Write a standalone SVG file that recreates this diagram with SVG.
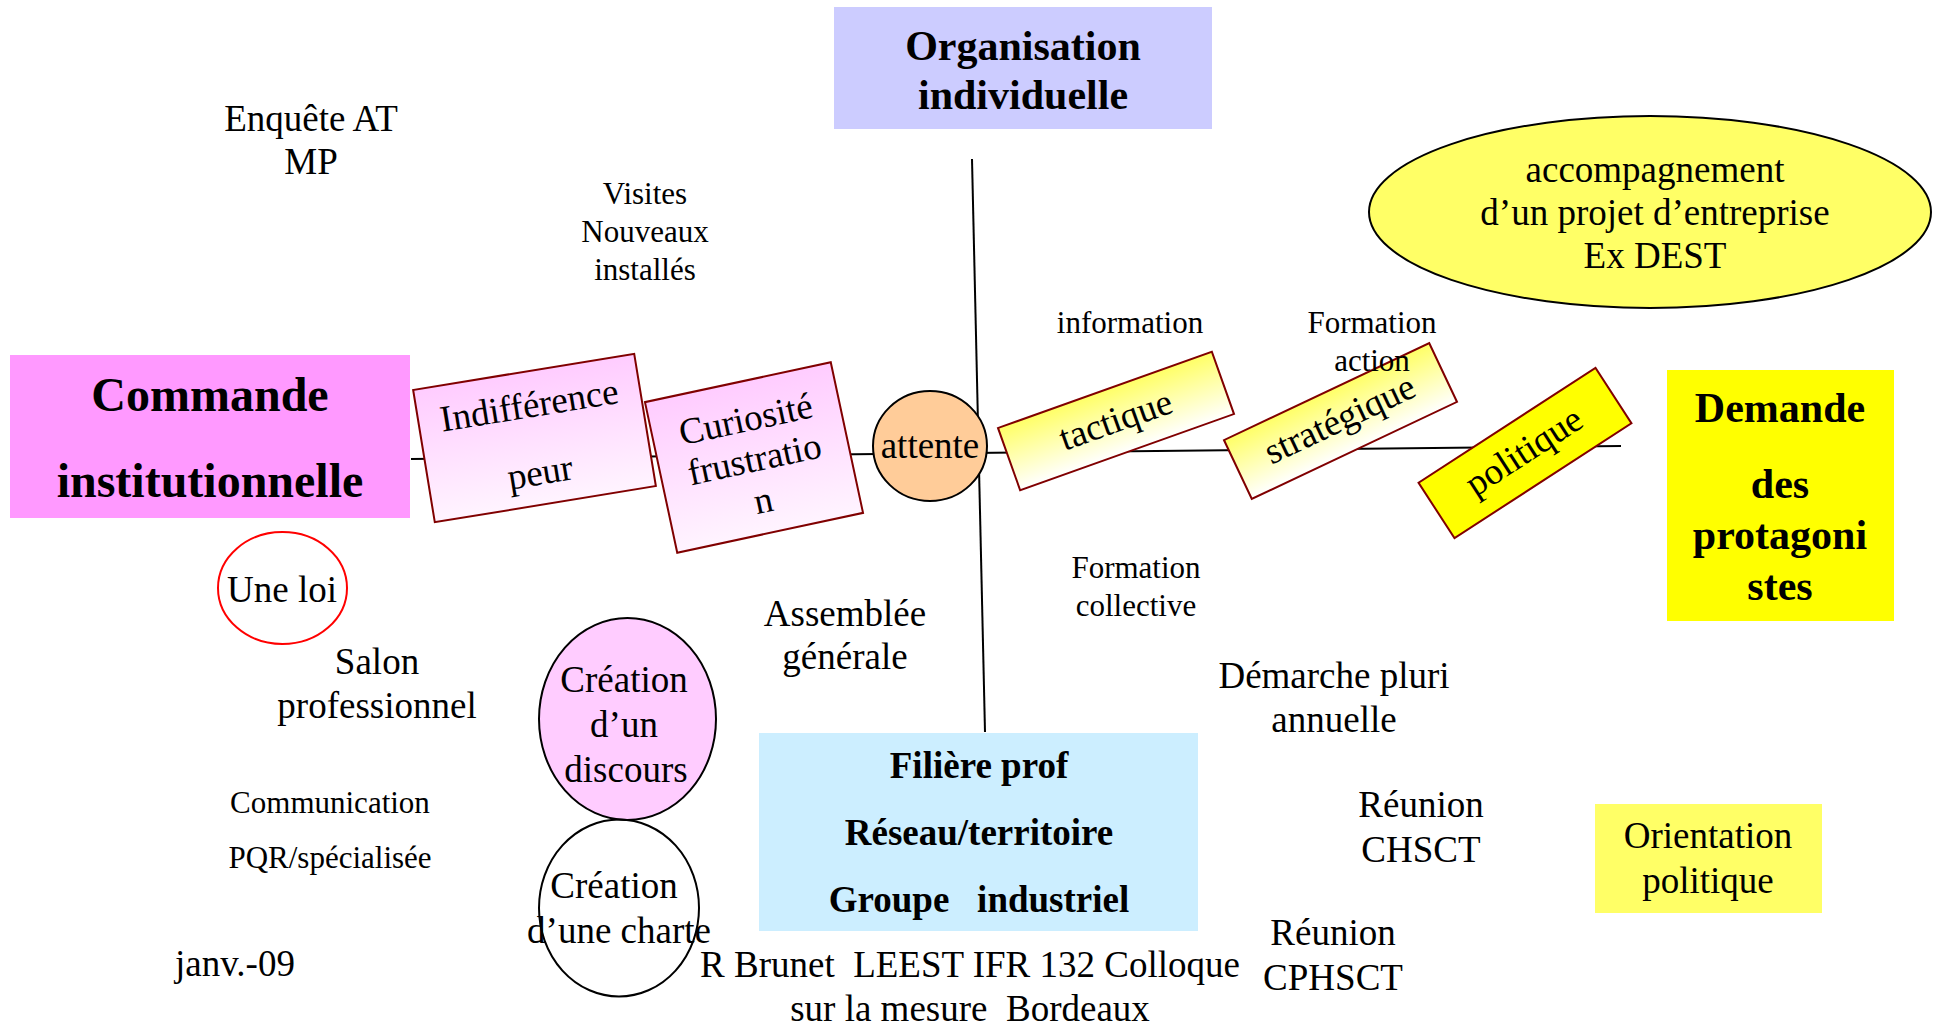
<svg xmlns="http://www.w3.org/2000/svg" width="1937" height="1028" viewBox="0 0 1937 1028">
<style>
text{font-family:"Liberation Serif","Times New Roman",serif;fill:#000;text-anchor:middle;white-space:pre}
.b{font-weight:bold}
.t37{font-size:37px}
.t31{font-size:31px}
.t42{font-size:42px}
.t48{font-size:48px}
.conn{stroke:#000;stroke-width:2;fill:none}
.rot{stroke:#800000;stroke-width:2}
</style>
<defs>
<linearGradient id="gPink" x1="0" y1="0" x2="0" y2="1"><stop offset="0" stop-color="#ffccff"/><stop offset="1" stop-color="#fff4ff"/></linearGradient>
<linearGradient id="gYel" x1="0" y1="0" x2="0" y2="1"><stop offset="0" stop-color="#ffff66"/><stop offset="1" stop-color="#ffffff"/></linearGradient>
</defs>
<rect width="1937" height="1028" fill="#fff"/>
<g id="connectors">
<line class="conn" x1="411" y1="459" x2="1621" y2="446"/>
<line class="conn" x1="972" y1="159" x2="985" y2="732"/>
</g>
<g id="commande">
<rect x="10" y="355" width="400" height="163" fill="#ff99ff"/>
<text class="b t48" x="210" y="411">Commande</text>
<text class="b t48" x="210" y="497">institutionnelle</text>
</g>
<g id="organisation">
<rect x="834" y="7" width="378" height="122" fill="#ccccff"/>
<text class="b t42" x="1023" y="60">Organisation</text>
<text class="b t42" x="1023" y="109">individuelle</text>
</g>
<g id="demande">
<rect x="1667" y="370" width="227" height="251" fill="#ffff00"/>
<text class="b t42" x="1780" y="422">Demande</text>
<text class="b t42" x="1780" y="498">des</text>
<text class="b t42" x="1780" y="549">protagoni</text>
<text class="b t42" x="1780" y="600">stes</text>
</g>
<g id="filiere">
<rect x="759" y="733" width="439" height="198" fill="#cceeff"/>
<text class="b t37" x="979" y="778">Filière prof</text>
<text class="b t37" x="979" y="845">Réseau/territoire</text>
<text class="b t37" x="979" y="912">Groupe   industriel</text>
</g>
<g id="indifference" transform="translate(534.5,438) rotate(-9.3)">
<rect class="rot" x="-112" y="-67" width="224" height="134" fill="url(#gPink)"/>
<text class="t37" x="0" y="-21">Indifférence</text>
<text class="t37" x="0" y="47">peur</text>
</g>
<g id="curiosite" transform="translate(754,457.5) rotate(-12.1)">
<rect class="rot" x="-95" y="-77" width="190" height="154" fill="url(#gPink)"/>
<text class="t37" x="0" y="-27">Curiosité</text>
<text class="t37" x="0" y="14">frustratio</text>
<text class="t37" x="0" y="56">n</text>
</g>
<g id="attente">
<ellipse cx="930" cy="446" rx="57" ry="55" fill="#ffcc99" stroke="#000" stroke-width="2"/>
<text class="t37" x="930" y="458">attente</text>
</g>
<g id="tactique" transform="translate(1116,421) rotate(-19.6)">
<rect class="rot" x="-113.5" y="-33" width="227" height="66" fill="url(#gYel)"/>
<text class="t37" x="0" y="11">tactique</text>
</g>
<g id="strategique" transform="translate(1340.5,421) rotate(-25.3)">
<rect class="rot" x="-113.5" y="-32.5" width="227" height="65" fill="url(#gYel)"/>
<text class="t37" x="0" y="10">stratégique</text>
</g>
<g id="politique" transform="translate(1525,453) rotate(-33)">
<rect class="rot" x="-105.5" y="-33" width="211" height="66" fill="#ffff00"/>
<text class="t37" x="0" y="10">politique</text>
</g>
<g id="accompagnement">
<ellipse cx="1650" cy="212" rx="281" ry="96" fill="#ffff66" stroke="#000" stroke-width="2"/>
<text class="t37" x="1655" y="182">accompagnement</text>
<text class="t37" x="1655" y="225">d’un projet d’entreprise</text>
<text class="t37" x="1655" y="268">Ex DEST</text>
</g>
<g id="orientation">
<rect x="1595" y="804" width="227" height="109" fill="#ffff66"/>
<text class="t37" x="1708" y="848">Orientation</text>
<text class="t37" x="1708" y="893">politique</text>
</g>
<g id="uneloi">
<ellipse cx="282.5" cy="588" rx="64.5" ry="56" fill="#fff" stroke="#ff0000" stroke-width="2"/>
<text class="t37" x="282" y="602">Une loi</text>
</g>
<g id="discours">
<ellipse cx="627.5" cy="719" rx="88.5" ry="101" fill="#ffccff" stroke="#000" stroke-width="2"/>
<text class="t37" x="624" y="692">Création</text>
<text class="t37" x="624" y="737">d’un</text>
<text class="t37" x="626" y="782">discours</text>
</g>
<g id="charte">
<ellipse cx="619" cy="908" rx="80" ry="88.5" fill="none" stroke="#000" stroke-width="2"/>
<text class="t37" x="614" y="898">Création</text>
<text class="t37" x="619" y="943">d’une charte</text>
</g>
<g id="labels">
<text class="t37" x="311" y="131">Enquête AT</text>
<text class="t37" x="311" y="174">MP</text>
<text class="t31" x="645" y="204">Visites</text>
<text class="t31" x="645" y="242">Nouveaux</text>
<text class="t31" x="645" y="280">installés</text>
<text class="t31" x="1130" y="333">information</text>
<text class="t31" x="1372" y="333">Formation</text>
<text class="t31" x="1372" y="371">action</text>
<text class="t31" x="1136" y="578">Formation</text>
<text class="t31" x="1136" y="616">collective</text>
<text class="t37" x="845" y="626">Assemblée</text>
<text class="t37" x="845" y="669">générale</text>
<text class="t37" x="1334" y="688">Démarche pluri</text>
<text class="t37" x="1334" y="732">annuelle</text>
<text class="t37" x="1421" y="817">Réunion</text>
<text class="t37" x="1421" y="862">CHSCT</text>
<text class="t37" x="1333" y="945">Réunion</text>
<text class="t37" x="1333" y="990">CPHSCT</text>
<text class="t37" x="377" y="674">Salon</text>
<text class="t37" x="377" y="718">professionnel</text>
<text class="t31" x="330" y="813">Communication</text>
<text class="t31" x="330" y="868">PQR/spécialisée</text>
<text class="t37" x="235" y="976">janv.-09</text>
<text class="t37" x="970" y="977">R Brunet  LEEST IFR 132 Colloque</text>
<text class="t37" x="970" y="1021">sur la mesure  Bordeaux</text>
</g>
</svg>
